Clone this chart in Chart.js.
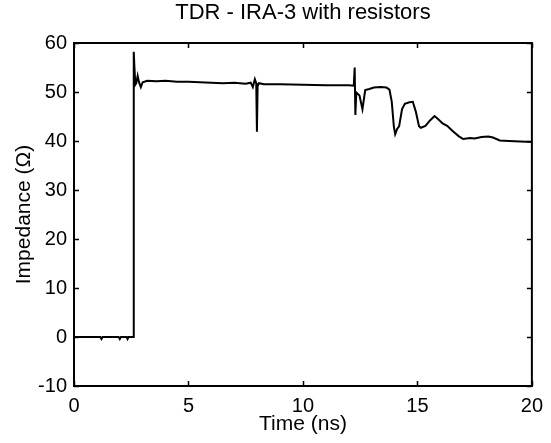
<!DOCTYPE html>
<html>
<head>
<meta charset="utf-8">
<script src="https://cdn.jsdelivr.net/npm/chart.js@4"></script>
<style>
  html, body { margin: 0; padding: 0; background: #fff; }
  #wrap { width: 551px; height: 443px; }
</style>
</head>
<body>
<div id="wrap"><canvas id="tdrChart"></canvas></div>
<script>
const timeNs = [
    0, 0.6, 1.15, 1.2, 1.25, 1.8, 1.95, 2.0, 2.05, 2.3, 2.34, 2.38, 2.5, 2.59,
    2.61, 2.64, 2.68, 2.72, 2.78, 2.84, 2.92, 3.0, 3.2, 3.6, 4.0, 4.5, 5.0, 5.5,
    6.0, 6.5, 7.0, 7.5, 7.72, 7.81, 7.9, 7.96, 7.99, 8.02, 8.08, 8.3, 9.0, 10.0,
    11.0, 12.0, 12.22, 12.26, 12.29, 12.33, 12.47, 12.6, 12.72, 12.9, 13.1, 13.4,
    13.65, 13.78, 13.88, 13.97, 14.03, 14.12, 14.2, 14.33, 14.45, 14.65, 14.8,
    14.93, 15.07, 15.15, 15.35, 15.55, 15.75, 15.9, 16.1, 16.3, 16.55, 16.8,
    17.0, 17.3, 17.5, 17.8, 18.1, 18.3, 18.6, 19.0, 19.5, 20.0
];
const impedance = [
    0, 0, 0, -0.4, 0, 0, 0, -0.4, 0, 0, -0.4, 0, 0, 0,
    58.2, 55, 51.5, 51.8, 53.3, 52.0, 51.0, 52.0, 52.3, 52.2, 52.3, 52.1, 52.1, 52.0,
    51.9, 51.8, 51.9, 51.7, 51.9, 51.0, 52.6, 51.8, 41.9, 51.2, 51.8, 51.6, 51.6, 51.5,
    51.4, 51.4, 51.3, 55.0, 45.3, 49.9, 49.3, 46.5, 50.4, 50.6, 50.9, 51.0,
    50.9, 50.5, 48.0, 43.0, 41.4, 42.5, 43.0, 46.5, 47.6, 47.9, 48.0,
    46.0, 43.0, 42.7, 43.1, 44.2, 45.1, 44.5, 43.6, 43.1, 42.0, 41.0,
    40.4, 40.6, 40.5, 40.8, 40.9, 40.7, 40.1, 40.0, 39.9, 39.8
];

const xTicks = [0, 5, 10, 15, 20];
const yTicks = [-10, 0, 10, 20, 30, 40, 50, 60];

const titleText = 'TDR - IRA-3 with resistors';
const xLabel = 'Time (ns)';
const yLabel = 'Impedance (\u03A9)';

const FONT = 'Arial, "Liberation Sans", sans-serif';

// MATLAB-style box with inward ticks on all four sides
const boxTicks = {
    id: 'boxTicks',
    afterDraw(chart) {
        const { ctx, chartArea: a, scales } = chart;
        const len = 5;
        ctx.save();
        ctx.strokeStyle = '#000';
        ctx.lineWidth = 1.5;
        ctx.beginPath();
        xTicks.forEach(v => {
            const px = Math.round(scales.x.getPixelForValue(v)) + 0.5;
            ctx.moveTo(px, a.bottom); ctx.lineTo(px, a.bottom - len);
            ctx.moveTo(px, a.top); ctx.lineTo(px, a.top + len);
        });
        yTicks.forEach(v => {
            const py = Math.round(scales.y.getPixelForValue(v)) + 0.5;
            ctx.moveTo(a.left, py); ctx.lineTo(a.left + len, py);
            ctx.moveTo(a.right, py); ctx.lineTo(a.right - len, py);
        });
        ctx.stroke();
        ctx.lineWidth = 2;
        ctx.strokeRect(a.left, a.top, a.right - a.left, a.bottom - a.top);
        ctx.restore();
    }
};

const ctx = document.getElementById('tdrChart').getContext('2d');
new Chart(ctx, {
    type: 'line',
    data: {
        datasets: [{
            data: timeNs.map((t, i) => ({ x: t, y: impedance[i] })),
            borderColor: '#000',
            borderWidth: 2,
            pointRadius: 0,
            tension: 0,
            fill: false
        }]
    },
    options: {
        responsive: true,
        maintainAspectRatio: false,
        animation: false,
        layout: { padding: { top: 0, right: 16, bottom: 0, left: 0 } },
        plugins: {
            legend: { display: false },
            tooltip: { enabled: false }
        },
        scales: {
            // top axis only carries the title so it centres over the plot box
            top: {
                type: 'linear',
                position: 'top',
                min: 0,
                max: 20,
                afterFit(scale) { scale.height = 43; },
                grid: { display: false, drawTicks: false },
                border: { display: false },
                ticks: { display: false },
                title: {
                    display: true,
                    text: titleText,
                    color: '#000',
                    font: { family: FONT, size: 22 },
                    padding: { top: 0, bottom: 0 }
                }
            },
            x: {
                type: 'linear',
                position: 'bottom',
                min: 0,
                max: 20,
                afterFit(scale) { scale.height = 57; },
                afterBuildTicks(scale) { scale.ticks = xTicks.map(v => ({ value: v })); },
                grid: { display: false, drawTicks: false },
                border: { display: false },
                ticks: {
                    color: '#000',
                    padding: 8,
                    maxRotation: 0,
                    font: { family: FONT, size: 20 }
                },
                title: {
                    display: true,
                    text: xLabel,
                    color: '#000',
                    font: { family: FONT, size: 21 },
                    padding: { top: 0, bottom: 6 }
                }
            },
            y: {
                type: 'linear',
                min: -10,
                max: 60,
                afterFit(scale) { scale.width = 74; },
                afterBuildTicks(scale) { scale.ticks = yTicks.map(v => ({ value: v })); },
                grid: { display: false, drawTicks: false },
                border: { display: false },
                ticks: {
                    color: '#000',
                    padding: 7,
                    font: { family: FONT, size: 20 }
                },
                title: {
                    display: true,
                    text: yLabel,
                    color: '#000',
                    font: { family: FONT, size: 21 },
                    padding: { top: 12, bottom: 0 }
                }
            }
        }
    },
    plugins: [boxTicks]
});
</script>
</body>
</html>
